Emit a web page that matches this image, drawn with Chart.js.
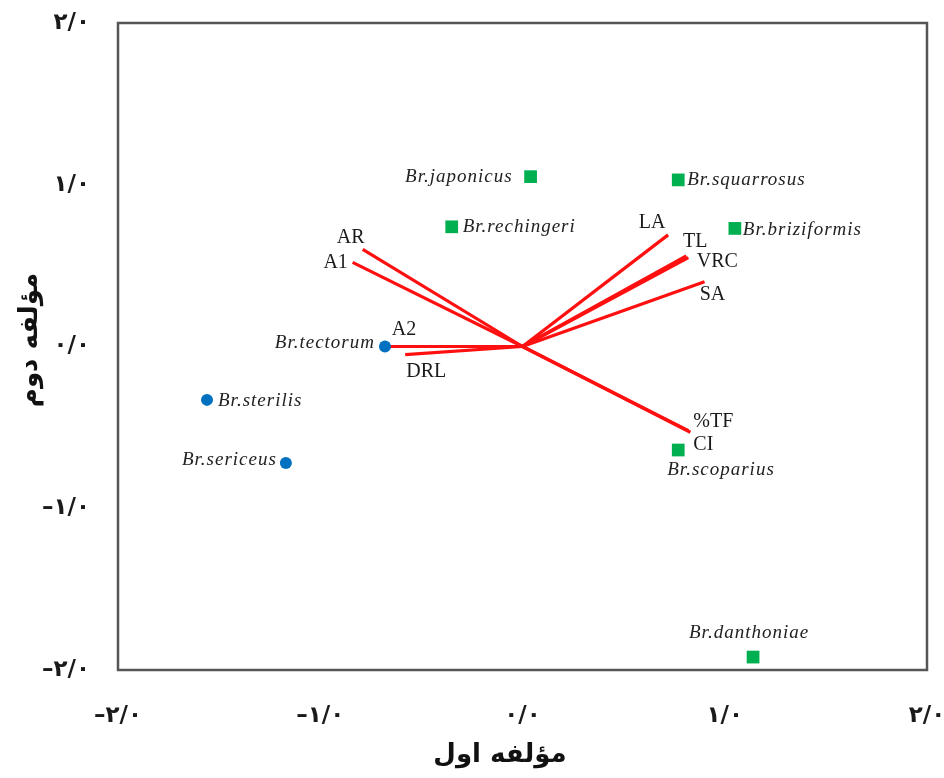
<!DOCTYPE html>
<html>
<head>
<meta charset="utf-8">
<script src="https://cdn.jsdelivr.net/npm/chart.js@4.4.1/dist/chart.umd.min.js"></script>
<style>
  body { margin: 0; background: #fff; }
</style>
</head>
<body>
<canvas id="biplot" width="944" height="778"></canvas>
<script>
// species scores (green squares / blue circles)
const greenNames = ['Br.japonicus', 'Br.squarrosus', 'Br.rechingeri', 'Br.briziformis', 'Br.scoparius', 'Br.danthoniae'];
const greenX = [0.04, 0.77, -0.35, 1.05, 0.77, 1.14];
const greenY = [1.05, 1.03, 0.74, 0.73, -0.64, -1.92];
const blueNames = ['Br.tectorum', 'Br.sterilis', 'Br.sericeus'];
const blueX = [-0.68, -1.56, -1.17];
const blueY = [0.00, -0.33, -0.72];

// trait loadings (red vectors from the origin)
const traitNames = ['AR', 'A1', 'A2', 'DRL', 'LA', 'TL', 'VRC', 'SA', '%TF', 'CI'];
const traitX = [-0.79, -0.84, -0.66, -0.58, 0.72, 0.81, 0.82, 0.90, 0.83, 0.82];
const traitY = [0.60, 0.52, 0.00, -0.05, 0.69, 0.56, 0.55, 0.40, -0.53, -0.52];

const tickValues = [-2, -1, 0, 1, 2];
const tickLabels = ['–۲/۰', '–۱/۰', '۰/۰', '۱/۰', '۲/۰'];
const xTitle = 'مؤلفه اول';
const yTitle = 'مؤلفه دوم';

// label placement relative to each mark, in px: [dx, dy, align]
const greenLabelPos = [[-18, 0, 'right'], [9, 0, 'left'], [11, 0, 'left'], [8, 2, 'left'], [-11, 20, 'left'], [-4, -24, 'center']];
const blueLabelPos = [[-10, -4, 'right'], [11, 1, 'left'], [-9, -3, 'right']];
const traitLabelPos = [[-12, -12, 'center'], [-17, 0, 'center'], [15, -17, 'center'], [21, 17, 'center'],
  [-16, -12, 'center'], [9, -14, 'center'], [29, 4, 'center'], [8, 13, 'center'], [23, -10, 'center'], [15, 14, 'center']];

const pts = (xs, ys) => xs.map((x, i) => ({ x: x, y: ys[i] }));

const frameAndLabels = {
  id: 'frameAndLabels',
  beforeDatasetsDraw(chart) {
    const { ctx, chartArea: a } = chart;
    ctx.save();
    ctx.strokeStyle = '#555';
    ctx.lineWidth = 2.5;
    ctx.strokeRect(a.left, a.top, a.right - a.left, a.bottom - a.top);
    ctx.restore();
  },
  afterDatasetsDraw(chart) {
    const { ctx } = chart;
    const xs = chart.scales.x, ys = chart.scales.y;
    ctx.save();
    ctx.textBaseline = 'middle';

    const put = (text, x, y, pos) => {
      ctx.textAlign = pos[2];
      ctx.fillText(text, xs.getPixelForValue(x) + pos[0], ys.getPixelForValue(y) + pos[1]);
    };

    ctx.fillStyle = '#222';
    ctx.font = 'italic 19px "Liberation Serif"';
    ctx.letterSpacing = '1px';
    greenNames.forEach((n, i) => put(n, greenX[i], greenY[i], greenLabelPos[i]));
    blueNames.forEach((n, i) => put(n, blueX[i], blueY[i], blueLabelPos[i]));

    ctx.letterSpacing = '0px';
    ctx.fillStyle = '#1a1a1a';
    ctx.font = '20px "Liberation Serif"';
    traitNames.forEach((n, i) => put(n, traitX[i], traitY[i], traitLabelPos[i]));
    ctx.restore();
  },
  afterDraw(chart) {
    const { ctx } = chart;
    ctx.save();
    ctx.fillStyle = '#111';
    ctx.font = 'bold 26px "DejaVu Sans"';
    ctx.textAlign = 'center';
    ctx.textBaseline = 'middle';
    ctx.fillText(xTitle, 500, 755);
    ctx.translate(30, 340);
    ctx.rotate(-Math.PI / 2);
    ctx.fillText(yTitle, 0, 0);
    ctx.restore();
  }
};

const axis = (extra) => Object.assign({
  type: 'linear',
  min: -2,
  max: 2,
  grid: { display: false, drawTicks: false },
  border: { display: false },
  ticks: {
    stepSize: 1,
    color: '#1a1a1a',
    font: { family: 'DejaVu Sans', size: 23, weight: 'bold' },
    callback: (v) => tickLabels[tickValues.indexOf(v)]
  }
}, extra);

const datasets = [
  {
    label: 'green',
    data: pts(greenX, greenY),
    pointStyle: 'rect',
    pointRadius: 9,
    backgroundColor: '#00b050',
    borderWidth: 0
  },
  {
    label: 'blue',
    data: pts(blueX, blueY),
    pointStyle: 'circle',
    pointRadius: 6,
    backgroundColor: '#0070c0',
    borderWidth: 0
  }
].concat(traitNames.map((n, i) => ({
  label: n,
  data: [{ x: 0, y: 0 }, { x: traitX[i], y: traitY[i] }],
  showLine: true,
  borderColor: '#ff1010',
  borderWidth: 3.2,
  pointRadius: 0
})));

new Chart(document.getElementById('biplot'), {
  type: 'scatter',
  data: { datasets: datasets },
  options: {
    responsive: false,
    animation: false,
    events: [],
    layout: { padding: { top: 23, right: 17, bottom: 0, left: 0 } },
    plugins: { legend: { display: false }, tooltip: { enabled: false } },
    scales: {
      x: axis({
        position: 'bottom',
        ticks: Object.assign({}, axis().ticks, { padding: 32 }),
        afterFit(scale) { scale.height = 108; scale.paddingLeft = 0; scale.paddingRight = 0; }
      }),
      y: axis({
        position: 'left',
        ticks: Object.assign({}, axis().ticks, { padding: 28 }),
        afterFit(scale) { scale.width = 118; scale.paddingTop = 0; scale.paddingBottom = 0; }
      })
    }
  },
  plugins: [frameAndLabels]
});
</script>
</body>
</html>
